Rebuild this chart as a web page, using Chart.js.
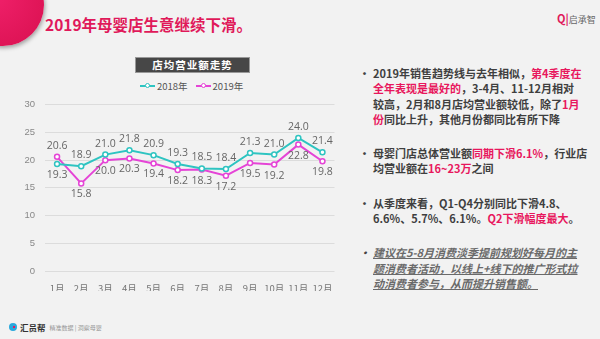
<!DOCTYPE html>
<html lang="zh">
<head>
<meta charset="UTF-8" />
<title>2019年母婴店生意继续下滑</title>
<script src="https://cdn.jsdelivr.net/npm/chart.js"></script>
<style>
  html, body { margin: 0; padding: 0; }
  body { width: 600px; height: 339px; background: #f2f2f2; position: relative; overflow: hidden;
         font-family: "Noto Sans CJK SC", "Noto Sans", sans-serif; }
  .blob { position: absolute; left: -38px; top: -36px; width: 82px; height: 82px; border-radius: 50%;
          background: radial-gradient(circle at 40% 40%, #f0206a, #d8104f); box-shadow: 1px 2px 4px rgba(0,0,0,0.35); }
  .title { position: absolute; left: 45px; top: 13px; font-size: 15.5px; font-weight: bold; color: #e0195a; }
  .brand { position: absolute; left: 557px; top: 10px; font-size: 9px; color: #666; }
  .brand b { color: #e0195a; font-size: 11px; }
  .boxTitle { position: absolute; left: 135px; top: 57px; width: 115px; height: 16px; background: #474747;
              border: 1px solid #999; box-sizing: border-box; color: #fff; font-size: 10.5px; font-weight: bold;
              text-align: center; line-height: 14px; letter-spacing: 1px; }
  .legend { position: absolute; left: 140px; top: 79px; font-size: 9.5px; color: #555; display: flex; gap: 8px; }
  .legend span { display: flex; align-items: center; }
  .legend i { display: inline-block; width: 15px; height: 2px; position: relative; margin-right: 2px; }
  .legend i::after { content: ""; position: absolute; left: 5px; top: -2px; width: 3px; height: 3px; border-radius: 50%;
                     background: #fff; border: 1px solid currentColor; }
  #wrap { position: absolute; left: 0; top: 89px; width: 340px; height: 202px; }
  .notes { position: absolute; left: 358px; top: 66px; width: 240px; font-size: 11px; font-weight: bold; color: #3f3f3f;
           line-height: 15.3px; white-space: nowrap; }
  .notes p { margin: 0 0 19px 15px; position: relative; }
  .notes p::before { content: "•"; position: absolute; left: -14px; color: #444; }
  .hl { color: #e8175d; }
  .notes p.tip { font-style: italic; color: #6a6a6a; text-decoration: underline; font-weight: bold; }
  .foot { position: absolute; left: 9px; top: 321px; font-size: 8px; color: #333; display: flex; align-items: center; }
  .foot .ico { width: 8px; height: 8px; border-radius: 50%; background: #2aa8dc; margin-right: 3px; position: relative; }
  .foot .ico::after { content: ""; position: absolute; left: 4px; top: 3px; width: 2px; height: 2px; background: #e8175d; }
  .foot b { font-size: 8.5px; }
  .foot small { color: #999; font-size: 6px; margin-left: 4px; }
</style>
</head>
<body>
<div class="blob"></div>
<div class="title">2019年母婴店生意继续下滑。</div>
<div class="brand"><b>Q|</b>启承智</div>

<div class="boxTitle">店均营业额走势</div>
<div class="legend">
  <span><i style="background:#2ec4c1;color:#2ec4c1"></i>2018年</span>
  <span><i style="background:#e544d6;color:#e544d6"></i>2019年</span>
</div>
<div id="wrap"><canvas id="chart"></canvas></div>

<div class="notes">
  <p>2019年销售趋势线与去年相似，<span class="hl">第4季度在</span><br><span class="hl">全年表现是最好的</span>，3-4月、11-12月相对<br>较高，2月和8月店均营业额较低，除了<span class="hl">1月</span><br><span class="hl">份</span>同比上升，其他月份都同比有所下降</p>
  <p>母婴门店总体营业额<span class="hl">同期下滑6.1%</span>，行业店<br>均营业额在<span class="hl">16~23万</span>之间</p>
  <p>从季度来看，Q1-Q4分别同比下滑4.8、<br>6.6%、5.7%、6.1%。<span class="hl">Q2下滑幅度最大</span>。</p>
  <p class="tip">建议在5-8月消费淡季提前规划好每月的主<br>题消费者活动，以线上+线下的推广形式拉<br>动消费者参与，从而提升销售额。</p>
</div>

<div class="foot"><span class="ico"></span><b>汇员帮</b><small>精准数据 | 洞察母婴</small></div>

<script>
const months = ['1月', '2月', '3月', '4月', '5月', '6月', '7月', '8月', '9月', '10月', '11月', '12月'];
const sales2018 = [19.3, 18.9, 21.0, 21.8, 20.9, 19.3, 18.5, 18.4, 21.3, 21.0, 24.0, 21.4];
const sales2019 = [20.6, 15.8, 20.0, 20.3, 19.4, 18.2, 18.3, 17.2, 19.5, 19.2, 22.8, 19.8];
const yTicks = [0, 5, 10, 15, 20, 25, 30];

// value labels: the higher of the two series goes above its point, the lower below
const valueLabels = {
  id: 'valueLabels',
  afterDatasetsDraw(chart) {
    const ctx = chart.ctx;
    ctx.save();
    ctx.font = '10.5px "Open Sans", "Noto Sans", sans-serif';
    ctx.fillStyle = '#666';
    ctx.textAlign = 'center';
    ctx.textBaseline = 'middle';
    chart.data.datasets.forEach((ds, di) => {
      const other = chart.data.datasets[1 - di].data;
      chart.getDatasetMeta(di).data.forEach((pt, i) => {
        const above = ds.data[i] >= other[i];
        ctx.fillText(ds.data[i].toFixed(1), pt.x, pt.y + (above ? -11 : 11));
      });
    });
    ctx.restore();
  }
};

new Chart(document.getElementById('chart'), {
  type: 'line',
  data: {
    labels: months,
    datasets: [
      { label: '2018年', data: sales2018, borderColor: '#2ec4c1', backgroundColor: '#fff',
        borderWidth: 2, pointRadius: 2.5, pointBorderWidth: 1.5, tension: 0 },
      { label: '2019年', data: sales2019, borderColor: '#e544d6', backgroundColor: '#fff',
        borderWidth: 2, pointRadius: 2.5, pointBorderWidth: 1.5, tension: 0 }
    ]
  },
  options: {
    responsive: true,
    maintainAspectRatio: false,
    animation: false,
    layout: { padding: { top: 10, right: 3, left: 0, bottom: 0 } },
    plugins: { legend: { display: false }, tooltip: { enabled: false } },
    scales: {
      x: {
        offset: true,
        grid: { display: false },
        border: { display: false },
        ticks: { color: '#777', font: { size: 9.5, family: '"Noto Sans CJK SC", sans-serif' }, padding: 4, maxRotation: 0 },
        afterFit(s) { s.height = 20; }
      },
      y: {
        min: yTicks[0], max: yTicks[yTicks.length - 1],
        grid: { color: '#dcdcdc', drawTicks: false, lineWidth: 1 },
        border: { display: false },
        ticks: { stepSize: yTicks[1] - yTicks[0], color: '#888', font: { size: 9.5 }, padding: 10 },
        afterFit(s) { s.width = 45; }
      }
    }
  },
  plugins: [valueLabels]
});
</script>
</body>
</html>
